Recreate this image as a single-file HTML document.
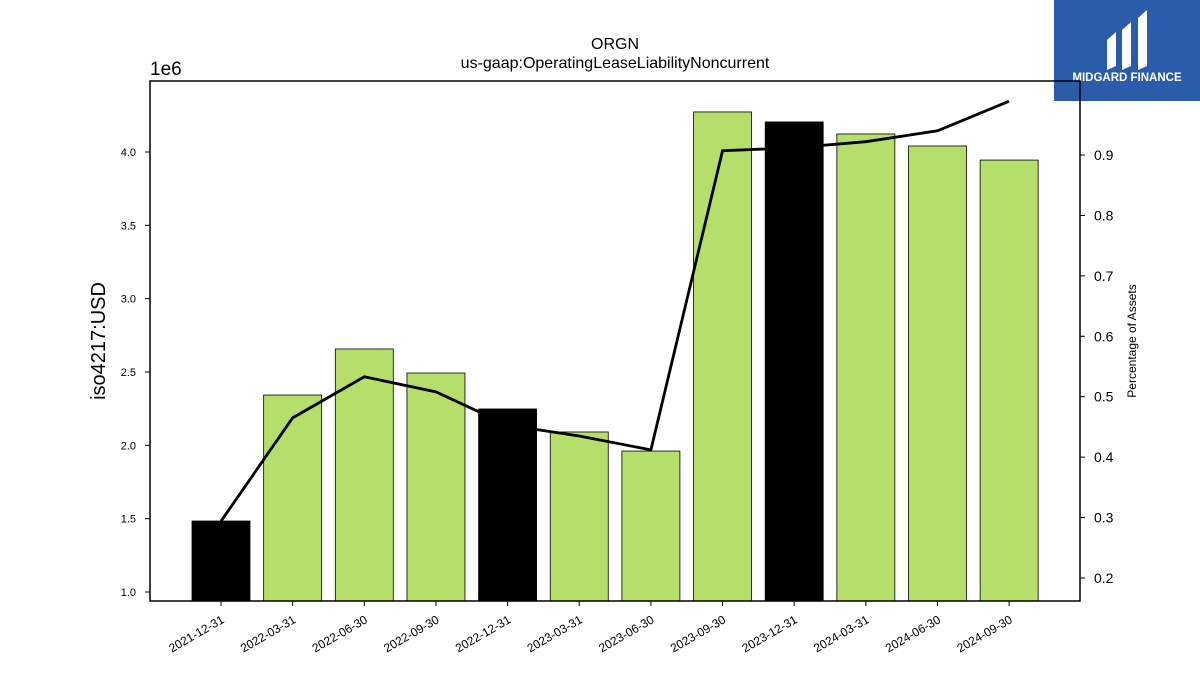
<!DOCTYPE html>
<html><head><meta charset="utf-8"><style>
body{margin:0;background:#fff;width:1200px;height:675px;overflow:hidden;font-family:"Liberation Sans","DejaVu Sans",sans-serif}
</style></head><body>
<svg id="chart" width="1200" height="675" xmlns="http://www.w3.org/2000/svg">
<g id="logo">
<rect x="1054" y="0" width="146" height="101" fill="#2a5caa"/>
<path d="M1107 40 L1116 32 L1116 66 L1107 70 Z M1122 30 L1131 22 L1131 66 L1122 70 Z M1138 18 L1147 10 L1147 66 L1138 70 Z" fill="#fff"/>
<text x="1127" y="81" text-anchor="middle" font-size="11.5" font-weight="bold" fill="#fff">MIDGARD FINANCE</text>
</g>
<text x="615" y="49" text-anchor="middle" font-size="16">ORGN</text>
<text x="615" y="68" text-anchor="middle" font-size="16">us-gaap:OperatingLeaseLiabilityNoncurrent</text>
<text x="150" y="75" font-size="19">1e6</text>
<text transform="translate(105,341) rotate(-90)" text-anchor="middle" font-size="20">iso4217:USD</text>
<text transform="translate(1136,341) rotate(-90)" text-anchor="middle" font-size="12">Percentage of Assets</text>
<g id="bars"></g><g id="line"></g><g id="axes"></g>
<rect x="150" y="81" width="930" height="520" fill="none" stroke="#000" stroke-width="1.5"/>
</svg>
<script>
const categories=["2021-12-31","2022-03-31","2022-06-30","2022-09-30","2022-12-31","2023-03-31","2023-06-30","2023-09-30","2023-12-31","2024-03-31","2024-06-30","2024-09-30"];
const barValues=[1.484,2.343,2.657,2.493,2.248,2.091,1.961,4.273,4.205,4.123,4.041,3.945];
const pctValues=[0.294,0.465,0.533,0.508,0.453,0.435,0.412,0.907,0.912,0.922,0.940,0.989];
const leftTicks=[1.0,1.5,2.0,2.5,3.0,3.5,4.0];
const rightTicks=[0.2,0.3,0.4,0.5,0.6,0.7,0.8,0.9];
const NS="http://www.w3.org/2000/svg";
const yL=v=>592-(v-1.0)*146.67;
const yR=v=>578-(v-0.2)*604.3;
const xC=i=>221+i*71.65;
const bw=58;
function mk(t,a,p){const e=document.createElementNS(NS,t);for(const k in a)e.setAttribute(k,a[k]);p.appendChild(e);return e;}
const bars=document.getElementById('bars'),line=document.getElementById('line'),axes=document.getElementById('axes');
categories.forEach((c,i)=>{
  const black=c.endsWith('12-31');
  const top=yL(barValues[i]);
  const r=mk('rect',{x:xC(i)-bw/2,y:top,width:bw,height:601-top,fill:black?'#000':'#b5de6b',stroke:'#000','stroke-width':0.8},bars);
  
  
  const t=mk('line',{x1:xC(i),x2:xC(i),y1:601,y2:606,stroke:'#000'},axes);
  
  
  const l=mk('text',{transform:`translate(${xC(i)+4},622) rotate(-30)`,'text-anchor':'end','font-size':12},axes);
  l.textContent=c;
  
  
});
const pts=pctValues.map((v,i)=>xC(i)+','+yR(v)).join(' ');
const pl=mk('polyline',{points:pts,fill:'none',stroke:'#000','stroke-width':2.8},line);


leftTicks.forEach(v=>{
  const y=yL(v);
  const t=mk('line',{x1:145,x2:150,y1:y,y2:y,stroke:'#000'},axes);
  
  
  const l=mk('text',{x:136,y:y+4,'text-anchor':'end','font-size':11},axes);
  l.textContent=v.toFixed(1);
  
  
});
rightTicks.forEach(v=>{
  const y=yR(v);
  const t=mk('line',{x1:1080,x2:1085,y1:y,y2:y,stroke:'#000'},axes);
  
  
  const l=mk('text',{x:1094,y:y+5,'font-size':14},axes);
  l.textContent=v.toFixed(1);
  
  
});
</script>
</body></html>
